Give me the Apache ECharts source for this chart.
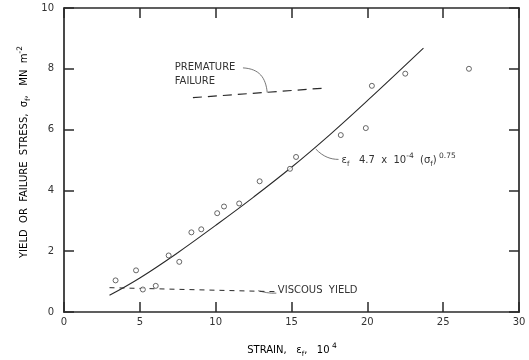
<!DOCTYPE html>
<html><head><meta charset="utf-8">
<script src="https://cdn.jsdelivr.net/npm/echarts@6/dist/echarts.min.js"></script>
<style>html,body{margin:0;padding:0;background:#fff}#c{width:529px;height:360px}</style>
</head><body><div id="c"></div>
<script>
// ---- data ----
const xTicks = ['0','5','10','15','20','25','30'];
const yTicks = ['0','2','4','6','8','10'];
const strain = [3.4,4.75,5.2,6.05,6.9,7.6,8.4,9.05,10.1,10.55,11.55,12.9,14.9,15.3,18.25,19.9,20.3,22.5,26.7];
const stress = [1.04,1.37,0.74,0.86,1.86,1.65,2.62,2.72,3.25,3.47,3.57,4.3,4.71,5.1,5.82,6.05,7.44,7.84,8.0];
const fitStrain = [3.0,5,7.5,10,12.5,15,17.5,20,23.7];
const fitStress = [0.55,1.12,1.95,2.85,3.78,4.76,5.82,6.95,8.68];
const prematureStrain = [8.5,17.3];
const prematureStress = [7.05,7.37];
const viscousStrain = [3.0,13.9];
const viscousStress = [0.80,0.67];

const ink = '#2a2a2a';
const FONT = 'DejaVu Sans';
const zip = (a,b) => a.map((v,i)=>[v,b[i]]);
const chart = echarts.init(document.getElementById('c'), null, {renderer:'canvas'});

const tickStyle = {show:true, inside:true, length:10, lineStyle:{color:ink, width:1.5}};
const axisCommon = {
  type:'value',
  axisLine:{show:true, onZero:false, lineStyle:{color:ink, width:1.7}},
  axisTick:tickStyle,
  splitLine:{show:false}
};
const rich = {
  n:{fontFamily:FONT, fontSize:10, color:'#333', lineHeight:15},
  sub:{fontFamily:FONT, fontSize:7, color:'#333', verticalAlign:'bottom', lineHeight:8},
  sup:{fontFamily:FONT, fontSize:7.5, color:'#333', verticalAlign:'top', lineHeight:8}
};

chart.setOption({
  animation:false,
  backgroundColor:'#fff',
  grid:{left:64, right:10, top:8, bottom:48},
  xAxis:[
    Object.assign({}, axisCommon, {min:0, max:30, interval:5, position:'bottom',
      axisLabel:{fontFamily:FONT, fontSize:10, color:'#333', margin:5,
        formatter:v => xTicks.includes(String(v)) ? String(v) : ''}}),
    Object.assign({}, axisCommon, {min:0, max:30, interval:5, position:'top', axisLabel:{show:false}})
  ],
  yAxis:[
    Object.assign({}, axisCommon, {min:0, max:10, interval:2, position:'left',
      axisLabel:{fontFamily:FONT, fontSize:10, color:'#333', margin:10,
        formatter:v => yTicks.includes(String(v)) ? String(v) : ''}}),
    Object.assign({}, axisCommon, {min:0, max:10, interval:2, position:'right', axisLabel:{show:false}})
  ],
  series:[
    {type:'line', data:zip(fitStrain, fitStress), smooth:0.4, showSymbol:false,
      lineStyle:{color:ink, width:1.1}, z:2},
    {type:'line', data:zip(prematureStrain, prematureStress), showSymbol:false,
      lineStyle:{color:ink, width:1.2, type:[9,6]}},
    {type:'line', data:zip(viscousStrain, viscousStress), showSymbol:false,
      lineStyle:{color:ink, width:1, type:[5,5]}},
    {type:'scatter', data:zip(strain, stress), symbol:'circle', symbolSize:5,
      itemStyle:{color:'#fff', borderColor:'#444', borderWidth:1}, z:3}
  ]
});

const P = (x,y) => chart.convertToPixel({xAxisIndex:0, yAxisIndex:0}, [x,y]);
function txt(x, y, text, opts) {
  const p = P(x,y);
  return Object.assign({type:'text', x:p[0], y:p[1], silent:true,
    style:Object.assign({text:text, fill:'#333', font:'10px "'+FONT+'"', textVerticalAlign:'middle', rich:rich}, opts||{})});
}
function curve(a, c1, c2, b) {
  const pa=P(a[0],a[1]), pb=P(b[0],b[1]), q1=P(c1[0],c1[1]), q2=P(c2[0],c2[1]);
  return {type:'bezierCurve', silent:true,
    shape:{x1:pa[0], y1:pa[1], x2:pb[0], y2:pb[1], cpx1:q1[0], cpy1:q1[1], cpx2:q2[0], cpy2:q2[1]},
    style:{stroke:'#555', lineWidth:0.8, fill:null}};
}

chart.setOption({graphic:[
  txt(7.3, 8.03, 'PREMATURE'),
  txt(7.3, 7.57, 'FAILURE'),
  curve([11.8, 8.03], [12.9, 8.0], [13.3, 7.7], [13.4, 7.22]),
  txt(18.3, 5.0, '{n|ε}{sub|f}{n|   4.7  x  10}{sup|-4}{n|  (σ}{sub|f}{n|)}{sup| 0.75}'),
  curve([16.6, 5.36], [17.1, 5.1], [17.6, 5.02], [18.1, 5.02]),
  txt(14.1, 0.72, 'VISCOUS  YIELD'),
  curve([14.0, 0.62], [13.6, 0.6], [13.1, 0.66], [12.8, 0.7]),
  {type:'text', x:292, y:350, silent:true,
    style:{text:'{n|STRAIN,   ε}{sub|f}{n|,   10}{sup| 4}', rich:rich, textAlign:'center', textVerticalAlign:'middle'}},
  {type:'text', x:24, y:152, rotation:Math.PI/2, silent:true,
    style:{text:'{n|YIELD  OR  FAILURE  STRESS,  σ}{sub|f}{n|,   MN  m}{sup|-2}', rich:rich, textAlign:'center', textVerticalAlign:'middle'}}
]});
</script></body></html>
